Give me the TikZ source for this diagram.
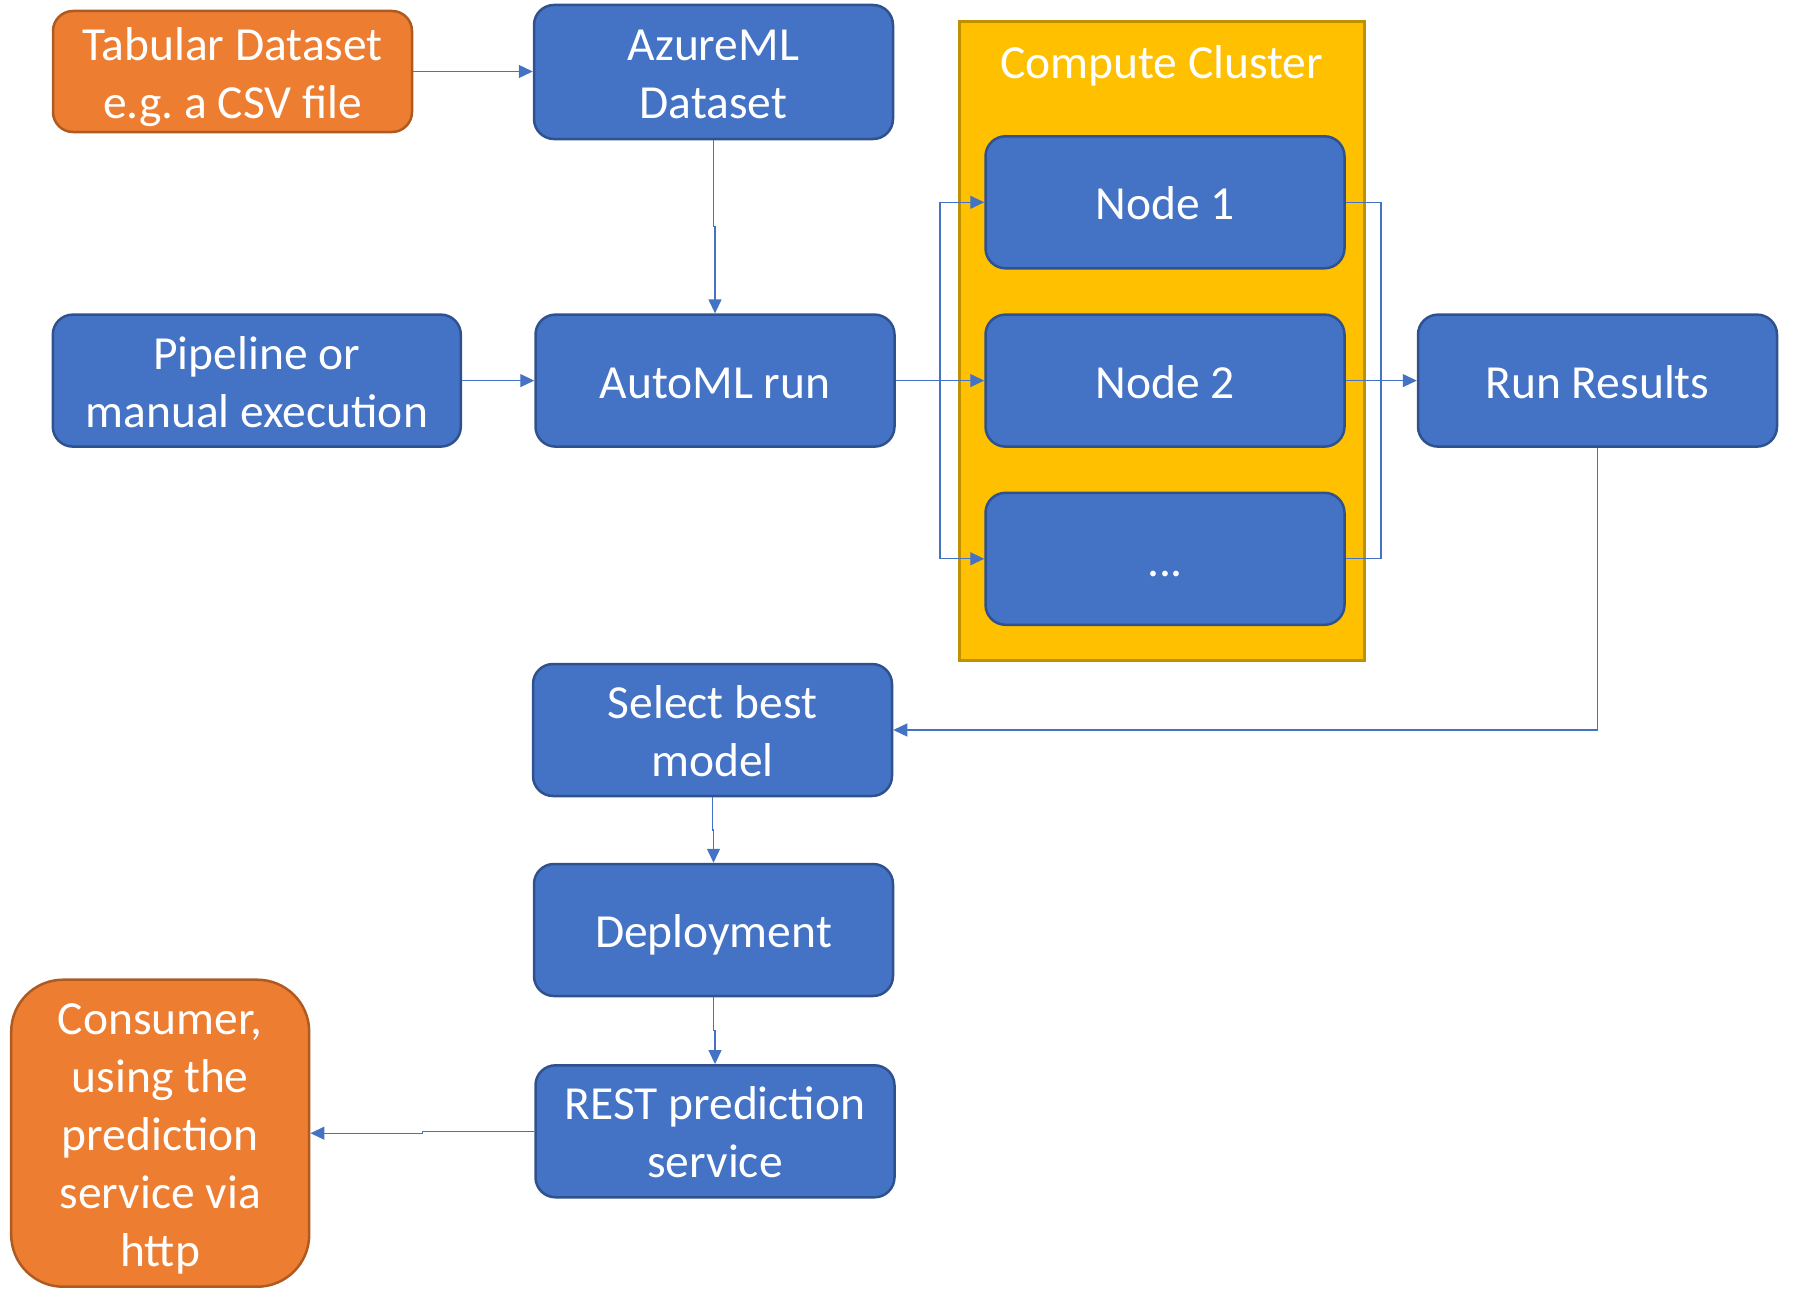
\documentclass[tikz,border=0pt]{standalone}
\usepackage{fontspec}
\setmainfont{Carlito}
\frenchspacing
\usetikzlibrary{arrows.meta,calc}
\definecolor{bluefill}{HTML}{4472C4}
\definecolor{blueline}{HTML}{2F528F}
\definecolor{orangefill}{HTML}{ED7D31}
\definecolor{orangeline}{HTML}{AE5A21}
\definecolor{yellowfill}{HTML}{FFC000}
\definecolor{yellowline}{HTML}{BF9000}
\definecolor{conncol}{HTML}{4472C4}
\newcommand{\ls}{\rule[-11.4pt]{0pt}{58pt}}
\tikzset{
  bluebox/.style={draw=blueline, fill=bluefill, line width=2.5pt, rounded corners=20pt,
    minimum width=359pt, minimum height=132pt, text=white, align=center, inner sep=0pt,
    font=\fontsize{47.5}{58}\selectfont},
  orangebox/.style={bluebox, draw=orangeline, fill=orangefill},
  clusterbox/.style={draw=yellowline, fill=yellowfill, line width=3pt, inner sep=0pt},
  conn/.style={draw=conncol, line width=1.3pt, -{Triangle[length=14pt,width=13pt]}},
  plain/.style={draw=conncol, line width=1.3pt},
}
\begin{document}
\begin{tikzpicture}[x=1pt,y=-1pt]
\useasboundingbox (0,0) rectangle (1814,1306);
% cluster
\node[clusterbox, minimum width=405pt, minimum height=639pt] (cluster) at (1161.5,341.3) {};
\node[text=white, font=\fontsize{47.5}{58}\selectfont, inner sep=0pt, anchor=center] (clabel) at (1161.5,61) {\ls Compute Cluster};
% boxes
\node[orangebox, minimum height=121pt] (tab) at (232.5,71.5) {\ls Tabular Dataset\\\ls e.g. a CSV file};
\node[bluebox, minimum height=134pt] (azure) at (713.5,72) {\ls AzureML\\\ls Dataset};
\node[bluebox, minimum width=408pt] (pipe) at (256.8,380.6) {\ls Pipeline or\\\ls manual execution};
\node[bluebox] (automl) at (715,380.6) {\ls AutoML run};
\node[bluebox] (n1) at (1165,202.3) {\ls Node 1};
\node[bluebox] (n2) at (1165,380.6) {\ls Node 2};
\node[bluebox] (n3) at (1165,558.8) {\ls ...};
\node[bluebox] (rr) at (1597.5,380.6) {\ls Run Results};
\node[bluebox] (sel) at (712.5,730) {\ls Select best\\\ls model};
\node[bluebox] (dep) at (713.5,930) {\ls Deployment};
\node[bluebox] (rest) at (715,1131.3) {\ls REST prediction\\\ls service};
\node[orangebox, rounded corners=52pt, minimum width=298pt, minimum height=307pt] (cons) at (160.2,1133.2) {\ls Consumer,\\\ls using the\\\ls prediction\\\ls service via\\\ls http};
% connectors
\draw[conn] (tab.east) -- (azure.west |- tab.east);
\draw[conn] (azure.south) |- ($(azure.south)!0.5!(automl.north)$) -| (automl.north);
\draw[conn] (pipe.east) -- (automl.west);
\coordinate (split) at (940,380.6);
\coordinate (join) at (1381,380.6);
\draw[conn] (automl.east) -- (split) |- (n1.west);
\draw[conn] (automl.east) -- (n2.west);
\draw[conn] (automl.east) -- (split) |- (n3.west);
\draw[plain] (n1.east) -| (join);
\draw[plain] (n3.east) -| (join);
\draw[conn] (n2.east) -- (rr.west);
\draw[conn] (rr.south) |- (sel.east);
\draw[conn] (sel.south) |- ($(sel.south)!0.5!(dep.north)$) -| (dep.north);
\draw[conn] (dep.south) |- ($(dep.south)!0.5!(rest.north)$) -| (rest.north);
\draw[conn] (rest.west) -| ($(rest.west)!0.5!(cons.east)$) |- (cons.east);
\end{tikzpicture}
\end{document}
